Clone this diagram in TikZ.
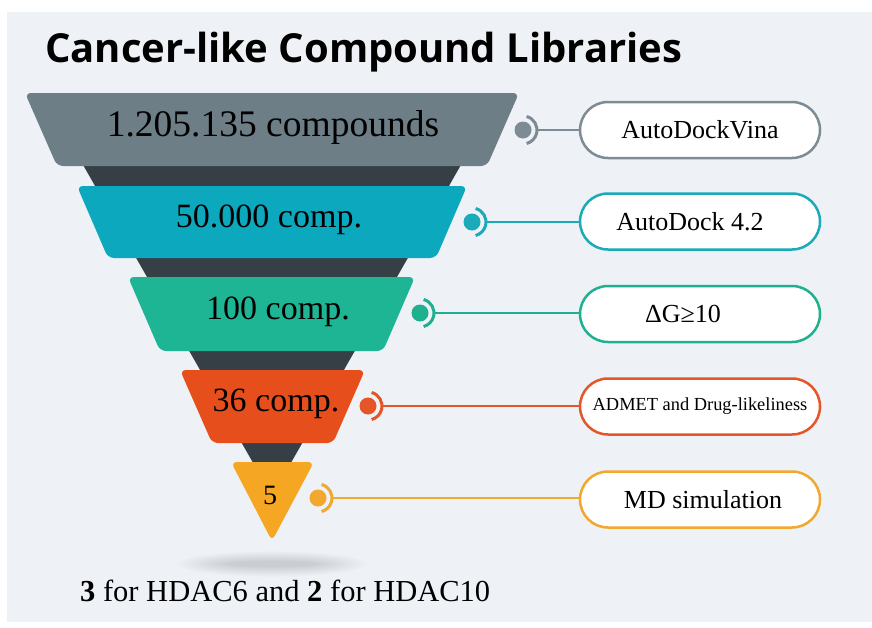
\documentclass[tikz,border=0pt]{standalone}
\usepackage{fontspec}
\setmainfont{Liberation Serif}
\newfontfamily\titlefont{Open Sans}
\usetikzlibrary{calc}

\definecolor{panel}{HTML}{EEF1F6}
\definecolor{funneldark}{HTML}{363E46}
\definecolor{cgray}{HTML}{6D7E87}
\definecolor{cteal}{HTML}{0BA8BE}
\definecolor{cgreen}{HTML}{1DB594}
\definecolor{cred}{HTML}{E64F1C}
\definecolor{cyellow}{HTML}{F5A623}
\definecolor{bgray}{HTML}{7D8C94}
\definecolor{bteal}{HTML}{1AAAB8}
\definecolor{bgreen}{HTML}{1FB090}
\definecolor{bred}{HTML}{E55527}
\definecolor{byellow}{HTML}{F2A72E}

\tikzset{
  layer/.style={rounded corners=6pt},
  layertext/.style={font=\fontsize{34}{40}\selectfont, inner sep=0pt},
  dotnode/.style={circle, fill=#1, minimum size=17pt, inner sep=0pt},
  stepbox/.style={draw=#1, line width=2.5pt, fill=white, rounded corners=28pt,
    minimum width=240pt, minimum height=56pt, inner sep=0pt,
    font=\fontsize{26}{30}\selectfont},
  link/.style={draw=#1, line width=2.6pt},
  ring/.style={draw=#1, line width=3pt},
}

\begin{document}
\begin{tikzpicture}[x=1pt, y=-1pt]
  % page and panel
  \useasboundingbox (0,0) rectangle (872,627);
  \fill[white] (0,0) rectangle (872,627);
  \fill[panel] (7,12) rectangle (872,622);

  % title
  \node[anchor=base west, inner sep=0pt, font=\titlefont\bfseries\fontsize{40}{46}\selectfont]
    (title) at (45,62) {Cancer-like Compound Libraries};

  % soft shadow under the funnel tip
  \foreach \r in {1,...,12}{
    \fill[black, opacity=0.012] (272,564) ellipse [x radius={40+4.5*\r}, y radius={2+0.9*\r}];
  }

  % dark funnel body
  \fill[funneldark] (42,93) -- (502,93) -- (272,496) -- cycle;

  % funnel layers
  \fill[cgray, layer]   (25,93) -- (519,93) -- (487,166) -- (57,166) -- cycle;
  \fill[cteal, layer]   (77,186) -- (467,186) -- (436,258) -- (108,258) -- cycle;
  \fill[cgreen, layer]  (128,277) -- (415,277) -- (383,351) -- (160,351) -- cycle;
  \fill[cred, layer]    (180,370) -- (365,370) -- (333,443) -- (212,443) -- cycle;
  \fill[cyellow, layer] (231,462) -- (314,462) -- (272,541) -- cycle;

  % layer labels
  \node[layertext, font=\fontsize{37.5}{42}\selectfont] (L1) at (273,127) {1.205.135 compounds};
  \node[layertext] (L2) at (269,220) {50.000 comp.};
  \node[layertext] (L3) at (278,312) {100 comp.};
  \node[layertext] (L4) at (276,404) {36 comp.};
  \node[layertext, font=\fontsize{28}{32}\selectfont] (L5) at (270,495) {5};

  % method boxes
  \node[stepbox=bgray]   (b1) at (700,130)   {AutoDockVina};
  \node[stepbox=bteal]   (b2) at (700,221.5) {\hspace*{-20pt}AutoDock 4.2};
  \node[stepbox=bgreen]  (b3) at (700,314)   {\hspace*{-34pt}ΔG≥10};
  \node[stepbox=bred, font=\fontsize{18.4}{22}\selectfont] (b4) at (700,406.5) {ADMET and Drug-likeliness};
  \node[stepbox=byellow] (b5) at (700,499.5) {\hspace*{6pt}MD simulation};

  % connector dots with rings and leader lines
  \foreach \i/\x/\y/\c in {1/523/130/bgray, 2/472/222/bteal, 3/420/313/bgreen, 4/368/406/bred, 5/318/498/byellow}{
    \node[dotnode=\c] (d\i) at (\x,\y) {};
    \draw[ring=\c] (d\i.center) ++(-75:14) arc[start angle=-75, end angle=75, radius=14];
    \coordinate (e\i) at ($(d\i.center)+(15,0)$);
    \draw[link=\c] (e\i) -- (b\i.west |- e\i);
  }

  % footnote
  \node[anchor=base west, inner sep=0pt, font=\fontsize{30.5}{36}\selectfont]
    (foot) at (80,601) {\textbf{3} for HDAC6 and \textbf{2} for HDAC10};
\end{tikzpicture}
\end{document}
